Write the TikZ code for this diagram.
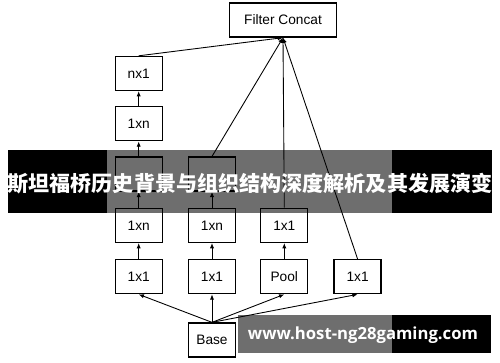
\documentclass[tikz,border=0pt]{standalone}
\usepackage{fontspec}
\setmainfont{Liberation Sans}
\newfontfamily\cjk{Noto Sans CJK SC}
\newfontfamily\urlfont{Open Sans}
\usetikzlibrary{positioning, arrows.meta}

\tikzset{
  layer/.style={draw, line width=0.75pt, minimum width=0.94cm, minimum height=0.68cm,
                inner sep=0pt, font=\fontsize{7.8}{9}\selectfont},
  flow/.style={-{Latex[length=3pt,width=2.4pt]}, line width=0.5pt}
}

\begin{document}
\begin{tikzpicture}[x=0.02cm, y=-0.02cm]
    \useasboundingbox (0,0) rectangle (500,362);
    % base and concat
    \node[layer] (base) at (212,340) {Base};
    \node[layer, minimum width=2.14cm] (concat) at (283,20) {Filter Concat};
    % bottom row
    \node[layer, above=0.56cm of base] (b2) {1x1};
    \node[layer, left=0.5cm of b2] (b1) {1x1};
    \node[layer, right=0.48cm of b2] (b3) {Pool};
    \node[layer, right=0.5cm of b3] (b4) {1x1};
    % second row
    \node[layer, above=0.32cm of b1] (c1) {1xn};
    \node[layer, above=0.32cm of b2] (c2) {1xn};
    \node[layer, above=0.32cm of b3] (c3) {1x1};
    % upper rows (the third row sits under the banner)
    \node[layer, above=0.32cm of c1] (d1) {};
    \node[layer, above=0.32cm of c2] (d2) {};
    \node[layer, above=0.3cm of d1] (e1) {1xn};
    \node[layer, above=0.3cm of e1] (f1) {nx1};
    % connectors
    \foreach \t in {b1,b2,b3,b4}
      \draw[flow] (base.north) -- (\t.south);
    \draw[flow] (b1) -- (c1);
    \draw[flow] (c1) -- (d1);
    \draw[flow] (d1) -- (e1);
    \draw[flow] (e1) -- (f1);
    \draw[flow] (b2) -- (c2);
    \draw[flow] (c2) -- (d2);
    \draw[flow] (b3) -- (c3);
    \foreach \s in {f1,d2,c3,b4}
      \draw[flow] (\s.north) -- (concat.south);
    % overlay banners
    \fill[black] (8,150) rectangle (107,213);
    \fill[black] (392,150) rectangle (492,213);
    \fill[black, opacity=0.57] (107,150) rectangle (392,213);
    \node[text=white, font=\cjk\bfseries\fontsize{12}{14}\selectfont] (title) at (250,184)
      {斯坦福桥历史背景与组织结构深度解析及其发展演变};
    \fill[black, opacity=0.57] (238,315) rectangle (392,353);
    \fill[black] (392,315) rectangle (491,353);
    \node[text=white, font=\urlfont\bfseries\fontsize{9.5}{11}\selectfont] (site) at (363,335)
      {www.host-ng28gaming.com};
\end{tikzpicture}
\end{document}
